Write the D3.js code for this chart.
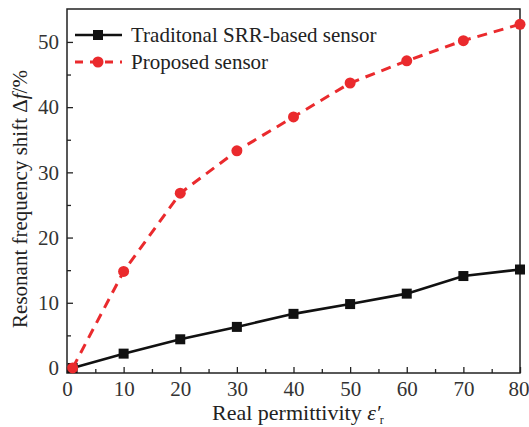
<!DOCTYPE html>
<html>
<head>
<meta charset="utf-8">
<script src="https://cdn.jsdelivr.net/npm/d3@7/dist/d3.min.js"></script>
<style>
  html, body { margin: 0; padding: 0; background: #fff; }
  text { font-family: "Liberation Serif", "Times New Roman", serif; }
</style>
</head>
<body>
<svg id="chart" width="529" height="427"></svg>
<script>
// Relative permittivity of the test samples
const permittivity = [1, 10, 20, 30, 40, 50, 60, 70, 80];
// Resonant frequency shift (%) for each sensor
const traditionalShift = [0, 2.2, 4.4, 6.3, 8.3, 9.8, 11.4, 14.1, 15.1];
const proposedShift = [0, 14.8, 26.8, 33.3, 38.5, 43.7, 47.1, 50.2, 52.7];
const seriesNames = ["Traditonal SRR-based sensor", "Proposed sensor"];
const xTicks = [0, 10, 20, 30, 40, 50, 60, 70, 80];
const yTicks = [0, 10, 20, 30, 40, 50];

const svg = d3.select("#chart");
const plotLeft = 67, plotRight = 520, plotTop = 9, plotBottom = 373;
const serif = "'Liberation Serif', 'Times New Roman', serif";

const x = d3.scaleLinear().domain([0, 80]).range([plotLeft, plotRight]);
const y = d3.scaleLinear().domain([-0.77, 55.05]).range([plotBottom, plotTop]);

// frame
svg.append("rect")
  .attr("x", plotLeft).attr("y", plotTop)
  .attr("width", plotRight - plotLeft).attr("height", plotBottom - plotTop)
  .attr("fill", "none").attr("stroke", "#222").attr("stroke-width", 1.5);

// x axis: major and minor ticks pointing inward
const xAxis = svg.append("g").attr("transform", `translate(0,${plotBottom})`);
xAxis.call(d3.axisBottom(x).tickValues(xTicks).tickSize(-6).tickPadding(8).tickFormat(d3.format("d")));
xAxis.append("g").call(d3.axisBottom(x).tickValues(d3.range(5, 80, 10)).tickSize(-4).tickFormat(""));
xAxis.selectAll(".domain").remove();
xAxis.selectAll("line").attr("stroke", "#222").attr("stroke-width", 1.3);
xAxis.attr("font-family", serif);
xAxis.selectAll("text").attr("font-size", 21).attr("fill", "#333");
// keep the last label inside the page edge
xAxis.selectAll(".tick text").filter(d => d === 80).attr("dx", -1.5);

// y axis
const yAxis = svg.append("g").attr("transform", `translate(${plotLeft},0)`);
yAxis.call(d3.axisLeft(y).tickValues(yTicks).tickSize(-6).tickPadding(8).tickFormat(d3.format("d")));
yAxis.append("g").call(d3.axisLeft(y).tickValues(d3.range(5, 55, 10)).tickSize(-4).tickFormat(""));
yAxis.selectAll(".domain").remove();
yAxis.selectAll("line").attr("stroke", "#222").attr("stroke-width", 1.3);
yAxis.attr("font-family", serif);
yAxis.selectAll("text").attr("font-size", 21).attr("fill", "#333");

// axis titles
const xTitle = svg.append("text")
  .attr("x", 212).attr("y", 420)
  .attr("font-size", 22).attr("fill", "#222");
xTitle.append("tspan").text("Real permittivity ");
xTitle.append("tspan").attr("font-style", "italic").text("ε′");
xTitle.append("tspan").attr("font-size", 12).attr("dy", 4).attr("dx", -1).text("r");

const yTitle = svg.append("text")
  .attr("transform", "translate(27,199) rotate(-90)")
  .attr("text-anchor", "middle").attr("font-size", 21).attr("fill", "#222");
yTitle.append("tspan").text("Resonant frequency shift Δ");
yTitle.append("tspan").attr("font-style", "italic").text("f");
yTitle.append("tspan").text("/%");

const line = d3.line().x((d, i) => x(permittivity[i])).y(d => y(d));

// traditional sensor: solid black with square markers
svg.append("path").datum(traditionalShift)
  .attr("d", line).attr("fill", "none")
  .attr("stroke", "#111").attr("stroke-width", 2.6);
svg.append("g").selectAll("rect").data(traditionalShift).join("rect")
  .attr("x", (d, i) => x(permittivity[i]) - 5)
  .attr("y", d => y(d) - 5)
  .attr("width", 10).attr("height", 10).attr("fill", "#111");

// proposed sensor: dashed red with circle markers
svg.append("path").datum(proposedShift)
  .attr("d", line).attr("fill", "none")
  .attr("stroke", "#ea2a2d").attr("stroke-width", 3)
  .attr("stroke-dasharray", "10,7");
svg.append("g").selectAll("circle").data(proposedShift).join("circle")
  .attr("cx", (d, i) => x(permittivity[i]))
  .attr("cy", d => y(d))
  .attr("r", 5.5).attr("fill", "#ea2a2d");

// legend
const legend = svg.append("g");
legend.append("line").attr("x1", 75).attr("x2", 122).attr("y1", 35).attr("y2", 35)
  .attr("stroke", "#111").attr("stroke-width", 2.6);
legend.append("rect").attr("x", 93).attr("y", 30).attr("width", 10).attr("height", 10).attr("fill", "#111");
legend.append("line").attr("x1", 75).attr("x2", 122).attr("y1", 62).attr("y2", 62)
  .attr("stroke", "#ea2a2d").attr("stroke-width", 3).attr("stroke-dasharray", "8,7");
legend.append("circle").attr("cx", 98).attr("cy", 62).attr("r", 5.5).attr("fill", "#ea2a2d");
legend.selectAll("text.lbl").data(seriesNames).join("text")
  .attr("class", "lbl")
  .attr("x", 131).attr("y", (d, i) => 42 + i * 26.5)
  .attr("font-size", 21).attr("fill", "#222")
  .text(d => d);
</script>
</body>
</html>
